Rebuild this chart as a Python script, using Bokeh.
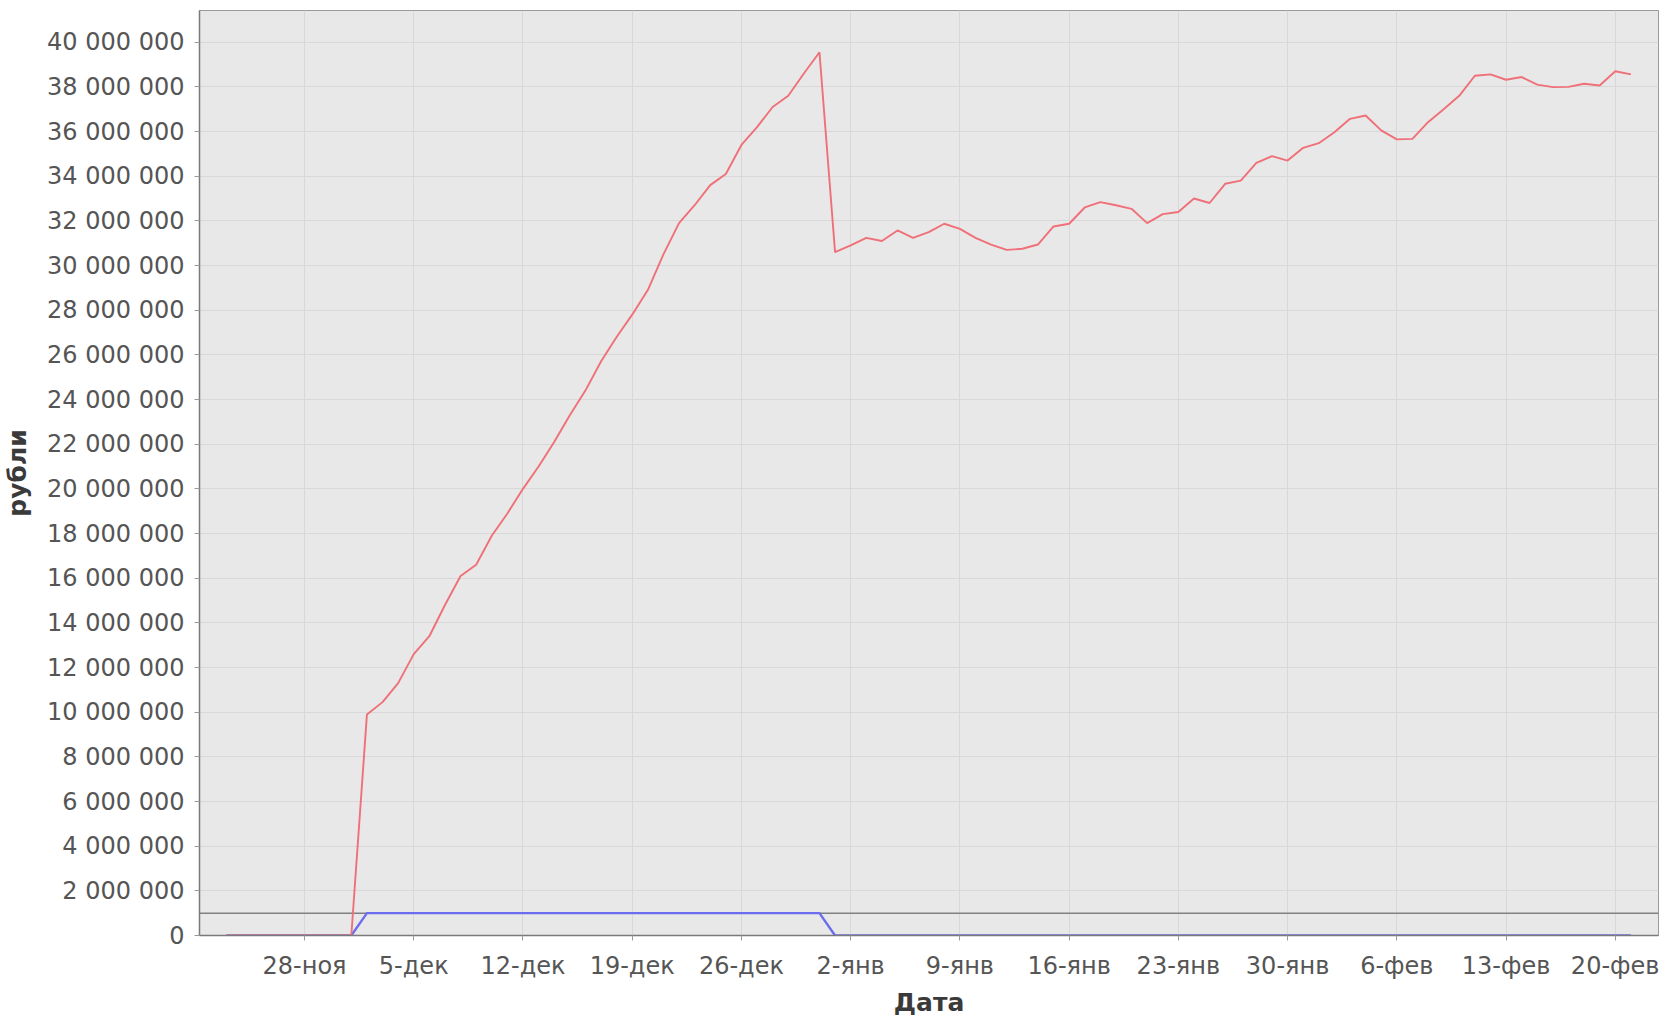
import datetime as dt
from bokeh.plotting import figure
from bokeh.models import Range1d, FixedTicker, Span, ColumnDataSource
from bokeh.embed import file_html
from bokeh.resources import INLINE

# ---------------- data ----------------
start_date = dt.datetime(2012, 11, 23)          # first daily observation
# red series, millions of rubles, one value per day from start_date
red_millions = [
    0, 0, 0, 0, 0, 0, 0, 0, 0,
    9.9, 10.45, 11.3, 12.6, 13.4, 14.8, 16.1, 16.6, 17.9, 18.9,
    20.0, 21.0, 22.1, 23.3, 24.4, 25.7, 26.8, 27.8, 28.9, 30.5,
    31.9, 32.7, 33.6, 34.1, 35.4, 36.2, 37.1, 37.6, 38.6, 39.55,
    30.6, 30.9, 31.24, 31.1, 31.57, 31.24, 31.5, 31.87, 31.64, 31.24,
    30.94, 30.7, 30.75, 30.94, 31.75, 31.87, 32.6, 32.84, 32.7, 32.54,
    31.9, 32.3, 32.4, 33.0, 32.8, 33.66, 33.8, 34.6, 34.9, 34.7,
    35.27, 35.48, 35.97, 36.57, 36.72, 36.05, 35.65, 35.67, 36.42, 37.0,
    37.6, 38.5, 38.56, 38.32, 38.44, 38.1, 37.99, 38.0, 38.14, 38.06,
    38.7, 38.56,
]
# blue series, millions of rubles
blue_millions = [0] * 9 + [1.0] * 30 + [0] * 52
threshold = 1_000_000  # horizontal marker line

x_tick_dates = ["2012-11-28", "2012-12-05", "2012-12-12", "2012-12-19", "2012-12-26",
                "2013-01-02", "2013-01-09", "2013-01-16", "2013-01-23", "2013-01-30",
                "2013-02-06", "2013-02-13", "2013-02-20"]
x_tick_labels = ["28-ноя", "5-дек", "12-дек", "19-дек", "26-дек", "2-янв", "9-янв",
                 "16-янв", "23-янв", "30-янв", "6-фев", "13-фев", "20-фев"]
y_ticks = list(range(0, 40_000_001, 2_000_000))

x_label = "Дата"
y_label = "рубли"

# ---------------- build ----------------
dates = [start_date + dt.timedelta(days=i) for i in range(len(red_millions))]
src = ColumnDataSource(dict(
    date=dates,
    red=[v * 1e6 for v in red_millions],
    blue=[v * 1e6 for v in blue_millions],
))

epoch = dt.datetime(1970, 1, 1)
def to_ms(d):
    return (d - epoch).total_seconds() * 1000.0

tick_ms = [to_ms(dt.datetime.strptime(s, "%Y-%m-%d")) for s in x_tick_dates]
anchor = dt.datetime(2012, 11, 28)
x_start = anchor - dt.timedelta(days=6.73)
x_end = anchor + dt.timedelta(days=86.77)

p = figure(
    frame_width=1459, frame_height=925,
    x_axis_type="datetime",
    x_range=Range1d(x_start, x_end),
    y_range=Range1d(0, 41_420_000),
    output_backend="svg", toolbar_location=None,
    min_border_left=198, min_border_right=1, min_border_top=10, min_border_bottom=60,
    background_fill_color="#e8e8e8", border_fill_color="white",
    outline_line_color="#9a9a9a", outline_line_width=1,
)

# grid
for g in (p.xgrid, p.ygrid):
    g.grid_line_color = "#d8d8d8"
    g.grid_line_width = 1
p.xgrid.ticker = FixedTicker(ticks=tick_ms)
p.ygrid.ticker = FixedTicker(ticks=y_ticks)

# marker line
p.add_layout(Span(location=threshold, dimension="width", line_color="#808080",
                  line_width=1.5, level="underlay"))

# series
p.line("date", "blue", source=src, line_color="#6c6cee", line_width=2.4)
p.line("date", "red", source=src, line_color="#ef7078", line_width=1.9)

# axes
xa = p.xaxis[0]
xa.ticker = FixedTicker(ticks=tick_ms)
xa.major_label_overrides = {t: lab for t, lab in zip(tick_ms, x_tick_labels)}
ya = p.yaxis[0]
ya.ticker = FixedTicker(ticks=y_ticks)
ya.major_label_overrides = {v: f"{v:,}".replace(",", " ") for v in y_ticks}

for ax in (xa, ya):
    ax.axis_line_color = "#7a7a7a"
    ax.axis_line_width = 1.5
    ax.major_tick_line_color = "#9a9a9a"
    ax.major_tick_out = 5
    ax.major_tick_in = 0
    ax.minor_tick_line_color = None
    ax.major_label_text_font = "DejaVu Sans"
    ax.major_label_text_font_size = "24px"
    ax.major_label_text_color = "#555555"
    ax.axis_label_text_font = "DejaVu Sans"
    ax.axis_label_text_font_size = "25px"
    ax.axis_label_text_font_style = "bold"
    ax.axis_label_text_color = "#3a3a3a"

xa.axis_label = x_label
xa.major_label_standoff = 11
xa.axis_label_standoff = 5
ya.axis_label = y_label
ya.major_label_standoff = 10
ya.axis_label_standoff = 12

open("out.html", "w").write(file_html(p, INLINE))
